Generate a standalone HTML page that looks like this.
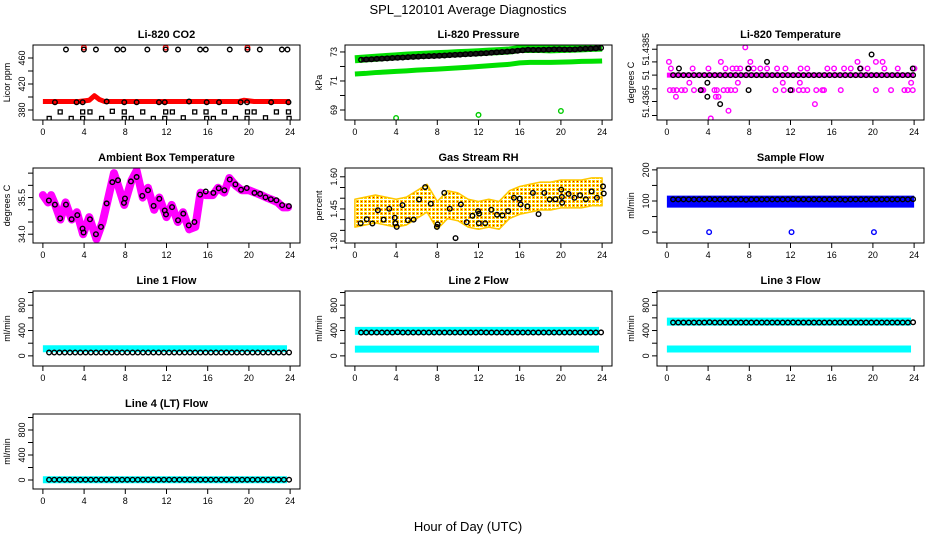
<!DOCTYPE html>
<html><head><meta charset="utf-8">
<style>
html,body{margin:0;padding:0;background:#fff;}
svg{display:block;font-family:"Liberation Sans",Arial,sans-serif;}
</style></head>
<body>
<svg id="chart" width="936" height="540" viewBox="0 0 936 540">
<defs>
<pattern id="rhdots" width="4" height="4" patternUnits="userSpaceOnUse">
<rect width="4" height="4" fill="#fff"/><rect x="0" y="0" width="3" height="3" fill="#ffd400"/><rect x="1" y="1" width="1" height="1" fill="#e00000"/>
</pattern>
</defs>
<text x="468" y="14" text-anchor="middle" font-size="13">SPL_120101  Average Diagnostics</text>
<text x="468" y="531" text-anchor="middle" font-size="13">Hour of Day (UTC)</text>
</svg>
<script>
// ---------- data ----------
const xTicks = [0,4,8,12,16,20,24];
const xTickLabels = ["0","4","8","12","16","20","24"];

// CO2
const co2Red = [393,393,393,393,393,393,393,393,394,395,402,396,393,393,393,393,393,393,393,393,393,393,393,393,393,393,393,393,393,393,393,393,393,393,393,393,393,393,393,395,394,393,393,393,393,393,393,393,393];
const co2TopHours = [2.24,3.98,5.15,7.22,7.8,10.14,11.92,13.12,15.26,15.81,18.14,19.86,21.06,23.2,23.74];
const co2TopVals  = [473,473,473,473,473,473,473,473,473,473,473,473,473,473,473];
const co2RedTopHours = [3.98,11.92,19.86];
const co2RedTopVals = [476,476,476];
const co2MidHours = [1.17,3.27,3.86,6.19,7.9,9.1,11.27,11.83,14.19,15.9,17.1,19.2,19.82,22.16,23.84];
const co2MidVals  = [392,392,392,393,392,392,392,392,393,392,392,392,392,392,392];
const co2SqHours  = [1.68,3.86,4.57,6.74,7.9,9.69,11.92,12.57,14.74,15.84,17.62,19.86,20.51,22.67,23.84];
const co2SqVals   = [377,377,377,378,377,377,377,377,377,377,377,377,377,377,377];
const co2LowHours = [0.61,2.75,3.86,5.7,7.9,8.58,10.72,11.83,13.63,15.9,16.55,18.69,19.82,21.61,23.9];
const co2LowVals  = [367,367,367,367,367,367,367,367,368,367,367,367,367,368,367];

// Pressure
const pressBlack = [72.46,72.48,72.50,72.52,72.54,72.56,72.58,72.60,72.62,72.64,72.66,72.68,72.70,72.71,72.72,72.74,72.76,72.78,72.80,72.82,72.84,72.86,72.88,72.90,72.92,72.95,72.98,73.00,73.02,73.05,73.08,73.12,73.15,73.14,73.14,73.15,73.16,73.18,73.18,73.17,73.17,73.18,73.20,73.22,73.23,73.25,73.28];
const pressGreenHi = [72.5,72.55,72.6,72.65,72.7,72.75,72.78,72.82,72.85,72.88,72.92,72.95,72.98,73.02,73.06,73.1,73.2,73.2,73.2,73.18,73.2,73.22,73.25,73.28,73.3];
const pressGreenLo = [71.48,71.52,71.58,71.62,71.66,71.7,71.75,71.78,71.82,71.86,71.9,71.95,72.0,72.05,72.1,72.15,72.25,72.28,72.28,72.28,72.3,72.32,72.35,72.36,72.38];
const pressOutHours = [4,12,20];
const pressOutVals = [68.45,68.66,68.93];

// Li-820 temperature
const tempBase = [51.4375,51.4375,51.4375,51.4375,51.4375,51.4375,51.4375,51.4375,51.4375,51.4375,51.4375,51.4375,51.4375,51.4375,51.4375,51.4375,51.4375,51.4375,51.4375,51.4375,51.4375,51.4375,51.4375,51.4375,51.4375];
const tempBlackLine = [51.4375,51.4375,51.4375,51.4375,51.4375,51.4375,51.4375,51.4375,51.4375,51.4375,51.4375,51.4375,51.4375,51.4375,51.4375,51.4375,51.4375,51.4375,51.4375,51.4375,51.4375,51.4375,51.4375,51.4375,51.4375,51.4375,51.4375,51.4375,51.4375,51.4375,51.4375,51.4375,51.4375,51.4375,51.4375,51.4375,51.4375,51.4375,51.4375,51.4375,51.4375,51.4375,51.4375,51.4375,51.4375,51.4375,51.4375];
const tempMagHours = [0.2,0.39,0.29,0.62,0.94,0.88,1.43,1.76,2.18,2.5,2.63,3.38,3.54,4.03,4.62,4.75,5.01,4.85,5.24,5.5,5.69,5.89,5.98,6.21,6.63,6.89,6.37,6.76,7.12,7.61,7.87,8.1,8.42,9.07,9.72,10.54,10.7,11.25,11.35,11.51,12.16,12.98,12.91,12.81,13.24,13.63,13.63,14.37,14.5,15.09,15.25,15.58,16.23,16.88,17.2,17.85,18.5,18.83,19.48,20.29,20.29,20.94,21.11,21.76,22.41,23.06,23.38,23.71,23.87,24.03,4.26];
const tempMagVals = [51.4380,51.43775,51.43693,51.43693,51.43693,51.43668,51.43693,51.43693,51.43721,51.43775,51.43693,51.43693,51.43693,51.43775,51.43693,51.43668,51.43668,51.43693,51.4380,51.43693,51.43775,51.43693,51.43615,51.43693,51.43693,51.43721,51.43775,51.43775,51.43775,51.43855,51.43775,51.4380,51.43775,51.43775,51.43775,51.43693,51.43775,51.43721,51.43693,51.43775,51.43693,51.43775,51.43721,51.43693,51.43693,51.43775,51.43693,51.4364,51.43693,51.43693,51.43693,51.43775,51.43775,51.43693,51.43775,51.43775,51.4380,51.43775,51.43775,51.4380,51.43693,51.4380,51.43775,51.43693,51.43775,51.43693,51.43693,51.43721,51.43693,51.43775,51.43586];
const tempBlkHours = [1.17,3.28,3.93,3.93,5.17,7.93,7.93,9.72,12.0,18.76,19.87,23.87];
const tempBlkVals = [51.43775,51.43693,51.43721,51.43668,51.4364,51.43775,51.43693,51.4380,51.43693,51.43775,51.43828,51.43775];
const tempTicks = [51.43848,51.4380,51.4375,51.43698,51.4365,51.43597];
const tempTickLabels = ["51.4385","","51","","51.4365",""];

// Ambient box temperature
const ambMagHours = [0,0.5,0.8,1.2,1.7,2.2,2.8,3.3,3.9,4.5,5.2,5.8,6.3,6.9,7.3,7.9,8.6,9.1,9.7,10.2,10.8,11.3,12.0,12.5,13.1,13.6,14.2,14.8,15.3,15.8,16.5,17.0,17.6,18.1,18.7,19.3,20.0,20.6,21.2,21.7,22.3,22.8,23.3,23.8];
const ambMagVals = [35.6,35.3,35.6,35.2,34.6,35.3,34.6,34.9,34.0,34.7,33.8,34.5,35.4,36.5,36.0,35.2,36.2,36.6,35.5,35.9,35.0,35.5,34.7,35.2,34.5,34.9,34.2,34.3,35.7,35.6,35.6,35.9,35.7,36.3,36.0,35.8,35.8,35.7,35.6,35.5,35.4,35.3,35.1,35.1];
const ambBlkHours = [0.58,1.17,1.68,2.24,2.79,3.34,3.85,3.95,4.57,5.15,5.64,6.19,6.74,7.29,7.87,7.97,8.55,9.1,9.65,10.2,10.75,11.3,11.83,11.95,12.54,13.12,13.63,14.16,14.71,15.26,15.81,16.55,17.07,17.62,18.14,18.69,19.24,19.79,20.54,21.09,21.61,22.13,22.67,23.23,23.88];
const ambBlkVals = [35.38,35.21,34.65,35.21,34.61,34.78,34.23,34.07,34.61,34.0,34.30,35.26,36.13,36.21,35.28,35.46,36.16,36.34,35.57,35.80,35.16,35.45,34.97,34.81,35.11,34.57,34.84,34.36,34.50,35.62,35.75,35.69,35.88,35.80,36.24,36.04,35.82,35.89,35.69,35.65,35.51,35.43,35.39,35.19,35.15];

// Gas stream RH
const rhCloud = [1.43,1.44,1.45,1.44,1.43,1.44,1.47,1.50,1.42,1.47,1.46,1.43,1.42,1.43,1.42,1.47,1.49,1.50,1.51,1.51,1.52,1.52,1.52,1.53,1.53];
const rhBlkHours = [0.56,1.15,1.7,2.23,2.79,3.34,3.87,3.93,4.06,4.62,5.15,5.7,6.23,6.82,7.37,7.96,8.03,8.68,9.21,9.77,10.29,10.85,11.41,11.96,12.03,12.06,12.65,13.24,13.8,14.32,14.88,15.44,16.0,16.09,16.75,17.28,17.83,18.39,18.91,19.47,20.03,20.09,20.12,20.75,21.31,21.86,22.42,22.98,23.5,24.09,24.16];
const rhBlkVals = [1.383,1.402,1.382,1.444,1.400,1.451,1.409,1.383,1.366,1.468,1.397,1.400,1.494,1.552,1.474,1.366,1.378,1.525,1.451,1.314,1.471,1.388,1.418,1.440,1.383,1.428,1.383,1.446,1.423,1.420,1.440,1.502,1.498,1.471,1.462,1.525,1.426,1.525,1.494,1.495,1.540,1.506,1.479,1.520,1.502,1.514,1.495,1.532,1.502,1.555,1.522];

// Sample flow
const sampleBlue = [98,98,98,98,98,98,98,98,98,98,98,98,98,98,98,98,98,98,98,98,98,98,98,98,98];
const sampleBlack = [105,105,105,105,105,105,105,106,105,105,105,105,105,105,104,105,105,105,105,105,105,105,105,106,105,105,105,105,105,105,105,105,105,104,105,105,105,105,105,105,105,105,105,105,105,105,106];
const sampleOutHours = [4.1,12.1,20.1];
const sampleOutVals = [0,0,0];

// Line flows
const line1Cyan = [112,112,112,112,112,112,112,112,112,112,112,112,112,112,112,112,112,112,112,112,112,112,112,112,112];
const line1Black = [53,53,53,53,53,53,53,54,53,53,53,53,53,53,53,53,53,53,53,53,53,53,53,54,53,53,53,53,53,53,53,53,53,53,53,53,53,53,53,53,53,53,53,53,53,53,54];
const line2CyanHi = [395,395,395,395,395,395,395,395,395,395,395,395,395,395,395,395,395,395,395,395,395,395,395,395,395];
const line2CyanLo = [107,107,107,107,107,107,107,107,107,107,107,107,107,107,107,107,107,107,107,107,107,107,107,107,107];
const line2Black = [368,368,368,368,368,368,368,372,368,368,368,368,368,368,368,368,368,368,368,368,368,368,368,370,368,368,368,368,368,368,368,368,368,368,368,368,368,368,368,368,368,368,368,368,368,368,370];
const line3CyanHi = [540,540,540,540,540,540,540,540,540,540,540,540,540,540,540,540,540,540,540,540,540,540,540,540,540];
const line3CyanLo = [108,108,108,108,108,108,108,108,108,108,108,108,108,108,108,108,108,108,108,108,108,108,108,108,108];
const line3Black = [526,526,526,526,526,526,526,530,526,526,526,526,526,526,526,526,526,526,526,526,526,526,526,528,526,526,526,526,526,526,526,526,526,526,526,526,526,526,526,526,526,526,526,526,526,526,530];
const line4Cyan = [5,5,5,5,5,5,5,5,5,5,5,5,5,5,5,5,5,5,5,5,5,5,5,5,5];
const line4Black = [5,5,5,5,5,5,5,5,5,5,5,5,5,5,5,5,5,5,5,5,5,5,5,5,5,5,5,5,5,5,5,5,5,5,5,5,5,5,5,5,5,5,5,5,5,5,5];
const flowTicks = [0,200,400,600,800,1000];
const flowTickLabels = ["0","","400","","800",""];

// ---------- drawing ----------
const NS = "http://www.w3.org/2000/svg";
const svg = document.getElementById("chart");
function mk(tag, attrs, parent){
  const e = document.createElementNS(NS, tag);
  for (const k in attrs) e.setAttribute(k, attrs[k]);
  (parent||svg).appendChild(e);
  return e;
}
const BOXW = 267, BOXH = 75;
function makePanel(col,row,title,ylab,yMin,yMax,ticks,labels,name){
  const x0 = 33 + 312*col, y0 = 45 + 123*row;
  const g = mk("g",{});
  
  
  const sx = h => x0 + (h + 0.96)/25.92*BOXW;
  const sy = v => y0 + BOXH - (v - yMin)/(yMax - yMin)*BOXH;
  const clip = mk("clipPath",{id:"clip-"+name},g);
  mk("rect",{x:x0,y:y0,width:BOXW,height:BOXH},clip);
  const plot = mk("g",{"clip-path":"url(#clip-"+name+")"},g);
  
  
  const t = mk("text",{x:x0+BOXW/2,y:y0-7,"text-anchor":"middle","font-size":"11","font-weight":"bold"},g);
  t.textContent = title;
  
  
  const box = mk("rect",{x:x0,y:y0,width:BOXW,height:BOXH,fill:"none",stroke:"#000","stroke-width":"1"},g);
  
  
  const xa = mk("g",{},g);
  
  
  xTicks.forEach((h,i)=>{
    mk("line",{x1:sx(h),x2:sx(h),y1:y0+BOXH,y2:y0+BOXH+5,stroke:"#000"},xa);
    const lt = mk("text",{x:sx(h),y:y0+BOXH+15,"text-anchor":"middle","font-size":"9"},xa);
    lt.textContent = xTickLabels[i];
  });
  const ya = mk("g",{},g);
  
  
  ticks.forEach((v,i)=>{
    const yy = sy(v);
    mk("line",{x1:x0-5,x2:x0,y1:yy,y2:yy,stroke:"#000"},ya);
    if(labels[i]){
      const lt = mk("text",{x:x0-8,y:yy,"text-anchor":"middle","font-size":"9",transform:"rotate(-90 "+(x0-8)+" "+yy+")"},ya);
      lt.textContent = labels[i];
    }
  });
  const yl = mk("text",{x:x0-23,y:y0+BOXH/2,"text-anchor":"middle","font-size":"9",transform:"rotate(-90 "+(x0-23)+" "+(y0+BOXH/2)+")"},g);
  yl.textContent = ylab;
  
  
  return {sx,sy,plot};
}
function band(p, vals, h0, h1, color, w, nm){
  const pts = vals.map((v,i)=> p.sx(h0 + i*(h1-h0)/(vals.length-1)) + "," + p.sy(v)).join(" ");
  const e = mk("polyline",{points:pts,fill:"none",stroke:color,"stroke-width":w,"stroke-linejoin":"round","stroke-linecap":"butt"},p.plot);
  
  
}
function bandXY(p, hs, vals, color, w, nm){
  const pts = vals.map((v,i)=> p.sx(hs[i]) + "," + p.sy(v)).join(" ");
  const e = mk("polyline",{points:pts,fill:"none",stroke:color,"stroke-width":w,"stroke-linejoin":"round","stroke-linecap":"round"},p.plot);
  
  
}
function pts(p, hs, vals, color, nm, sq){
  const g = mk("g",{},p.plot);
  
  
  vals.forEach((v,i)=>{
    if(sq) mk("rect",{x:p.sx(hs[i])-2,y:p.sy(v)-2,width:4,height:4,fill:"none",stroke:color,"stroke-width":"1.3"},g);
    else mk("circle",{cx:p.sx(hs[i]),cy:p.sy(v),r:2.3,fill:"none",stroke:color,"stroke-width":"1.4"},g);
  });
}
function ptsSeq(p, vals, h0, h1, color, nm){
  const g = mk("g",{},p.plot);
  
  
  vals.forEach((v,i)=>{
    mk("circle",{cx:p.sx(h0 + i*(h1-h0)/(vals.length-1)),cy:p.sy(v),r:2.3,fill:"none",stroke:color,"stroke-width":"1.4"},g);
  });
}

// CO2
let p = makePanel(0,0,"Li-820 CO2","Licor ppm",364.6,480,[380,400,420,440,460],["380","","420","","460"],"co2-panel");
band(p, co2Red, 0, 24, "#ff0000", 5, "co2-red-series");
pts(p, co2RedTopHours, co2RedTopVals, "#ff0000", "co2-red-outliers");
pts(p, co2TopHours, co2TopVals, "#000", "co2-black-top");
pts(p, co2MidHours, co2MidVals, "#000", "co2-black-mid");
pts(p, co2SqHours, co2SqVals, "#000", "co2-black-squares", true);
pts(p, co2LowHours, co2LowVals, "#000", "co2-black-low", true);

// Pressure
p = makePanel(1,0,"Li-820 Pressure","kPa",68.31,73.48,[69,70,71,72,73],["69","","71","","73"],"pressure-panel");
band(p, pressGreenHi, 0, 24, "#00e000", 8, "pressure-green-upper");
band(p, pressGreenLo, 0, 24, "#00e000", 5, "pressure-green-lower");
band(p, pressBlack, 0.6, 23.9, "#1a1a1a", 5, "pressure-black-band");
ptsSeq(p, pressBlack, 0.6, 23.9, "#000", "pressure-black-points");
pts(p, pressOutHours, pressOutVals, "#00cc00", "pressure-green-outliers");

// Temperature
p = makePanel(2,0,"Li-820 Temperature","degrees C",51.4358,51.43864,tempTicks,tempTickLabels,"li820-temp-panel");
band(p, tempBase, 0, 24, "#ff00ff", 5, "temp-magenta-line");
pts(p, tempMagHours, tempMagVals, "#ff00ff", "temp-magenta-points");
ptsSeq(p, tempBlackLine, 0.6, 23.9, "#000", "temp-black-line-points");
pts(p, tempBlkHours, tempBlkVals, "#000", "temp-black-points");

// Ambient
p = makePanel(0,1,"Ambient Box Temperature","degrees C",33.64,36.71,[34.0,34.5,35.0,35.5,36.0,36.5],["34.0","","","35.5","",""],"ambient-temp-panel");
bandXY(p, ambMagHours, ambMagVals, "#ff00ff", 8, "ambient-magenta-series");
pts(p, ambBlkHours, ambBlkVals, "#000", "ambient-black-points");

// RH
p = makePanel(1,1,"Gas Stream RH","percent",1.291,1.641,[1.30,1.35,1.40,1.45,1.50,1.55,1.60],["1.30","","","1.45","","","1.60"],"gas-rh-panel");
(function(){
  const up = rhCloud.map((v,i)=> p.sx(i*24/(rhCloud.length-1)) + "," + p.sy(v+0.065));
  const dn = rhCloud.map((v,i)=> p.sx(i*24/(rhCloud.length-1)) + "," + p.sy(v-0.065)).reverse();
  const e = mk("polygon",{points:up.concat(dn).join(" "),fill:"url(#rhdots)",stroke:"#ffc800","stroke-width":"1.5","stroke-linejoin":"round"},p.plot);
  
  
})();
pts(p, rhBlkHours, rhBlkVals, "#000", "rh-black-points");

// Sample flow
p = makePanel(2,1,"Sample Flow","ml/min",-35,206,[0,50,100,150,200],["0","","100","","200"],"sample-flow-panel");
band(p, sampleBlue, 0, 24, "#0000ff", 12, "sample-blue-band");
ptsSeq(p, sampleBlack, 0.6, 23.9, "#000", "sample-black-points");
pts(p, sampleOutHours, sampleOutVals, "#0000ff", "sample-blue-outliers");

// Line 1
p = makePanel(0,2,"Line 1 Flow","ml/min",-160,1024,flowTicks,flowTickLabels,"line1-flow-panel");
band(p, line1Cyan, 0, 23.7, "#00ffff", 7, "line1-cyan-band");
ptsSeq(p, line1Black, 0.6, 23.9, "#000", "line1-black-points");

// Line 2
p = makePanel(1,2,"Line 2 Flow","ml/min",-160,1024,flowTicks,flowTickLabels,"line2-flow-panel");
band(p, line2CyanHi, 0, 23.7, "#00ffff", 8, "line2-cyan-upper");
band(p, line2CyanLo, 0, 23.7, "#00ffff", 7, "line2-cyan-lower");
ptsSeq(p, line2Black, 0.6, 23.9, "#000", "line2-black-points");

// Line 3
p = makePanel(2,2,"Line 3 Flow","ml/min",-160,1024,flowTicks,flowTickLabels,"line3-flow-panel");
band(p, line3CyanHi, 0, 23.7, "#00ffff", 8, "line3-cyan-upper");
band(p, line3CyanLo, 0, 23.7, "#00ffff", 7, "line3-cyan-lower");
ptsSeq(p, line3Black, 0.6, 23.9, "#000", "line3-black-points");

// Line 4
p = makePanel(0,3,"Line 4 (LT) Flow","ml/min",-144,1056,flowTicks,flowTickLabels,"line4-flow-panel");
band(p, line4Cyan, 0, 23.7, "#00ffff", 7, "line4-cyan-band");
ptsSeq(p, line4Black, 0.6, 23.9, "#000", "line4-black-points");
</script>
</body></html>
